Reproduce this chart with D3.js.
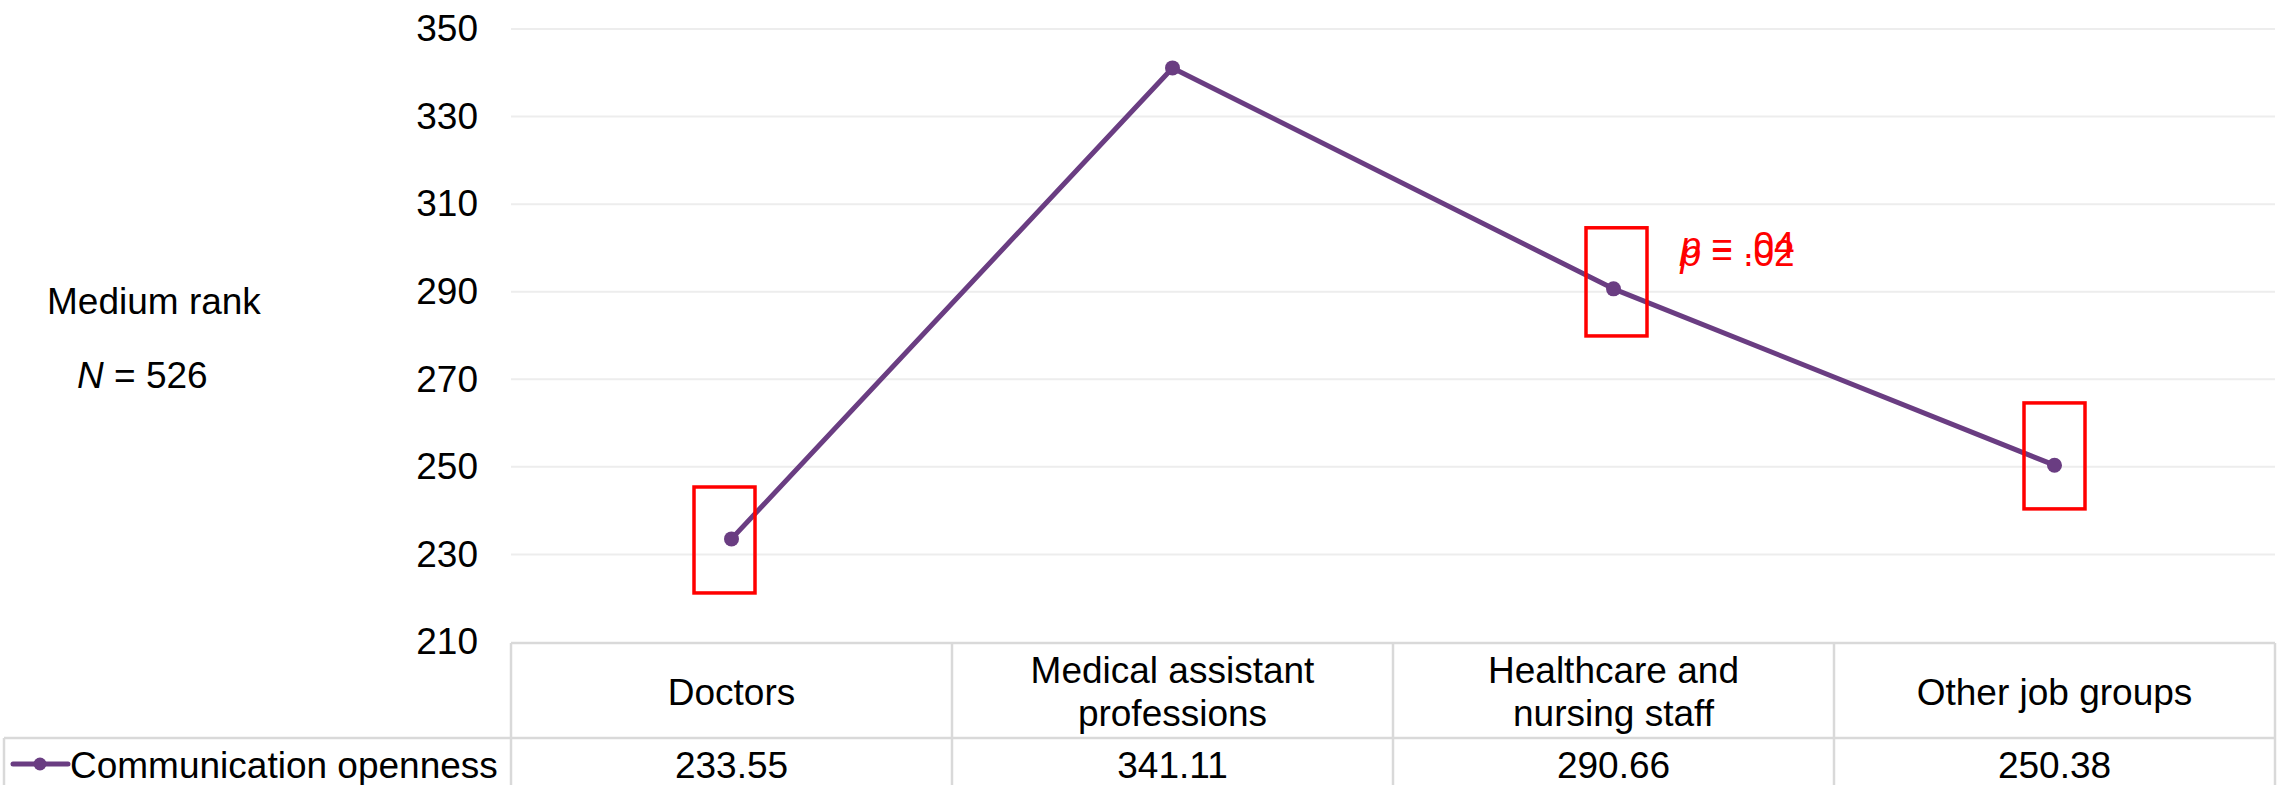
<!DOCTYPE html>
<html>
<head>
<meta charset="utf-8">
<script src="https://cdn.jsdelivr.net/npm/d3@7"></script>
<style>
  html, body { margin: 0; padding: 0; background: #fff; }
  svg { display: block; font-family: "Liberation Sans", Arial, sans-serif; }
</style>
</head>
<body>
<div id="chart"></div>
<script>
"use strict";

// data
var categories = ["Doctors", "Medical assistant professions", "Healthcare and nursing staff", "Other job groups"];
var categoryLines = [["Doctors"], ["Medical assistant", "professions"], ["Healthcare and", "nursing staff"], ["Other job groups"]];
var seriesName = "Communication openness";
var values = [233.55, 341.11, 290.66, 250.38];
var yTicks = [210, 230, 250, 270, 290, 310, 330, 350];

// red highlight boxes (value range) and p-values
var boxCats = ["Doctors", "Healthcare and nursing staff", "Other job groups"];
var boxHi = [245.4, 304.6, 264.6];
var boxLo = [221.2, 279.9, 240.4];
var pLabels = ["p = .04", "p = .02"];
var pValuesY = [297.7, 295.9];

var width = 2285, height = 785;
var plotLeft = 511, plotRight = 2275, plotTop = 29, plotBottom = 642;
var fontSize = 37;
var purple = "#6A3D82";
var tableColor = "#D9D9D9";

var svg = d3.select("#chart").append("svg")
    .attr("width", width)
    .attr("height", height);

var x = d3.scaleBand().domain(categories).range([plotLeft, plotRight]).padding(0);
var y = d3.scaleLinear().domain([210, 350]).range([plotBottom, plotTop]);
var cx = function(c){ return x(c) + x.bandwidth() / 2; };

// gridlines
svg.append("g")
    .selectAll("line")
    .data(yTicks.filter(function(d){ return d > 210; }))
    .enter().append("line")
    .attr("x1", plotLeft).attr("x2", plotRight)
    .attr("y1", function(d){ return y(d); })
    .attr("y2", function(d){ return y(d); })
    .style("stroke", "#EDEDED")
    .style("stroke-width", 2);

// y axis labels
var yAxis = d3.axisLeft(y).tickValues(yTicks).tickSize(0).tickPadding(33);
var gy = svg.append("g").attr("transform", "translate(" + plotLeft + ",0)").call(yAxis);
gy.select(".domain").remove();
gy.selectAll("text")
    .style("font-size", fontSize + "px")
    .style("font-family", "Liberation Sans, Arial, sans-serif")
    .style("fill", "#000");

// left title
svg.append("text")
    .attr("x", 47).attr("y", 314)
    .style("font-size", fontSize + "px")
    .text("Medium rank");
var nt = svg.append("text")
    .attr("x", 77).attr("y", 388)
    .style("font-size", fontSize + "px");
nt.append("tspan").style("font-style", "italic").text("N");
nt.append("tspan").text(" = 526");

// data table
var rowSep = 738;
var tableLeft = 4;
var table = svg.append("g")
    .style("stroke", tableColor)
    .style("stroke-width", 2.5)
    .style("fill", "none");

table.append("line").attr("x1", plotLeft).attr("x2", plotRight).attr("y1", plotBottom + 1).attr("y2", plotBottom + 1);
table.append("line").attr("x1", tableLeft).attr("x2", plotRight).attr("y1", rowSep).attr("y2", rowSep);
table.append("line").attr("x1", tableLeft).attr("x2", tableLeft).attr("y1", rowSep).attr("y2", height);
table.selectAll("line.col")
    .data(categories)
    .enter().append("line")
    .attr("class", "col")
    .attr("x1", function(d){ return x(d); })
    .attr("x2", function(d){ return x(d); })
    .attr("y1", plotBottom + 1).attr("y2", height);
table.append("line").attr("x1", plotRight).attr("x2", plotRight).attr("y1", plotBottom + 1).attr("y2", height);

// category labels
var catG = svg.append("g");
categoryLines.forEach(function(lines, i){
    var mid = 692;
    var lh = 43;
    var y0 = mid - (lines.length - 1) * lh / 2;
    var t = catG.append("text")
        .attr("text-anchor", "middle")
        .style("font-size", fontSize + "px");
    lines.forEach(function(l, j){
        t.append("tspan")
            .attr("x", cx(categories[i]))
            .attr("y", y0 + j * lh)
            .attr("dy", "0.35em")
            .text(l);
    });
});

// value row
svg.append("g").selectAll("text")
    .data(values)
    .enter().append("text")
    .attr("x", function(d, i){ return cx(categories[i]); })
    .attr("y", 765)
    .attr("dy", "0.35em")
    .attr("text-anchor", "middle")
    .style("font-size", fontSize + "px")
    .text(function(d){ return d.toFixed(2); });

// legend key
svg.append("line")
    .attr("x1", 13).attr("x2", 68).attr("y1", 764).attr("y2", 764)
    .style("stroke", purple).style("stroke-width", 5)
    .style("stroke-linecap", "round");
svg.append("circle")
    .attr("cx", 40).attr("cy", 764).attr("r", 6.5)
    .style("fill", purple);
svg.append("text")
    .attr("x", 70).attr("y", 765)
    .attr("dy", "0.35em")
    .style("font-size", fontSize + "px")
    .text(seriesName);

// series line
var line = d3.line()
    .x(function(d, i){ return cx(categories[i]); })
    .y(function(d){ return y(d); });

svg.append("path")
    .datum(values)
    .attr("d", line)
    .style("fill", "none")
    .style("stroke", purple)
    .style("stroke-width", 5)
    .style("stroke-linejoin", "round");

svg.append("g").selectAll("circle")
    .data(values)
    .enter().append("circle")
    .attr("cx", function(d, i){ return cx(categories[i]); })
    .attr("cy", function(d){ return y(d); })
    .attr("r", 7.5)
    .style("fill", purple);

// red boxes
var boxW = 61;
var boxDx = [-7, 3, 0];
svg.append("g").selectAll("rect")
    .data(boxCats)
    .enter().append("rect")
    .attr("x", function(d, i){ return cx(d) + boxDx[i] - boxW / 2; })
    .attr("y", function(d, i){ return y(boxHi[i]); })
    .attr("width", boxW)
    .attr("height", function(d, i){ return y(boxLo[i]) - y(boxHi[i]); })
    .style("fill", "none")
    .style("stroke", "#FF0000")
    .style("stroke-width", 3.5);

// p-value labels (overlapping, as in the original)
pLabels.forEach(function(lbl, i){
    var t = svg.append("text")
        .attr("x", cx("Healthcare and nursing staff") + 67)
        .attr("y", y(pValuesY[i]))
        .style("font-size", fontSize + "px")
        .style("fill", "#FF0000");
    t.append("tspan").style("font-style", "italic").text("p");
    t.append("tspan").text(lbl.slice(1));
});
</script>
</body>
</html>
